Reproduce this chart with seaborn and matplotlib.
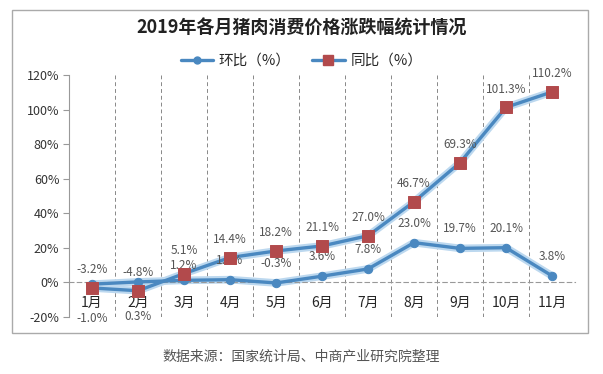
import matplotlib
matplotlib.use("Agg")
import matplotlib.pyplot as plt
import seaborn as sns
import pandas as pd
from matplotlib.patches import Rectangle
from matplotlib.lines import Line2D

# chart data
months = ["1月", "2月", "3月", "4月", "5月", "6月", "7月", "8月", "9月", "10月", "11月"]
mom = [-1.0, 0.3, 1.2, 1.6, -0.3, 3.6, 7.8, 23.0, 19.7, 20.1, 3.8]        # 环比
yoy = [-3.2, -4.8, 5.1, 14.4, 18.2, 21.1, 27.0, 46.7, 69.3, 101.3, 110.2]  # 同比
y_ticks = [-20, 0, 20, 40, 60, 80, 100, 120]

df = pd.DataFrame({"month": months, "idx": range(len(months)), "mom": mom, "yoy": yoy})

sns.set_style("white")
plt.rcParams["font.family"] = ["Noto Sans CJK SC", "DejaVu Sans"]

blue = "#4a88c0"
glow = "#bcd8ef"
red = "#b24a4c"
grey = "#555555"

fig = plt.figure(figsize=(6.03, 3.74), dpi=100)
ax = fig.add_axes([69 / 603, 1 - 317 / 374, (575 - 69) / 603, (317 - 75) / 374])

# light halo under both lines
for col in ["mom", "yoy"]:
    sns.lineplot(data=df, x="idx", y=col, ax=ax, color=glow, linewidth=5.5, zorder=2)
sns.lineplot(data=df, x="idx", y="mom", ax=ax, color=blue, linewidth=2.4,
             marker="o", markersize=6, markeredgecolor=blue, zorder=3)
sns.lineplot(data=df, x="idx", y="yoy", ax=ax, color=blue, linewidth=2.4, zorder=3)
sns.scatterplot(data=df, x="idx", y="yoy", ax=ax, color=red, marker="s", s=75,
                edgecolor=red, zorder=4)

ax.set_xlim(-0.5, len(months) - 0.5)
ax.set_ylim(-20, 120)
ax.set_yticks(y_ticks)
ax.set_yticklabels([f"{t}%" for t in y_ticks], fontsize=9, color="#333333")
ax.set_xlabel("")
ax.set_ylabel("")

# month labels sit under the zero line
ax.set_xticks(range(len(months)))
ax.set_xticklabels(months, fontsize=11, color="#333333")
ax.spines["bottom"].set_position(("data", 0))
ax.spines["bottom"].set_linestyle((0, (4, 3)))
ax.spines["bottom"].set_color("#999999")
ax.spines["bottom"].set_linewidth(0.8)
ax.tick_params(axis="x", length=0, pad=10)
ax.tick_params(axis="y", length=4, width=0.8, color="#999999", left=True, pad=3)
for s in ["top", "right"]:
    ax.spines[s].set_visible(False)
ax.spines["left"].set_color("#999999")
ax.spines["left"].set_linewidth(0.8)

for i in range(len(months)):
    ax.axvline(i + 0.5, color="#888888", linestyle=(0, (4, 3)), linewidth=0.7, zorder=1)

# value labels
for i, v in enumerate(yoy):
    off = 17 if i == 2 else 13
    ax.annotate(f"{v:.1f}%", (i, v), xytext=(0, off), textcoords="offset points",
                ha="center", va="center", fontsize=8.5, color=grey)
for i, v in enumerate(mom):
    off = -25 if i < 2 else (11 if i == 2 else 14)
    ax.annotate(f"{v:.1f}%", (i, v), xytext=(0, off), textcoords="offset points",
                ha="center", va="center", fontsize=8.5, color=grey)

# title, legend, outer box, source
fig.text(0.5, 1 - 28 / 374, "2019年各月猪肉消费价格涨跌幅统计情况",
         ha="center", va="center", fontsize=13, fontweight="bold", color="#222222")
handles = [
    Line2D([], [], color=blue, linewidth=2.4, marker="o", markersize=5),
    Line2D([], [], color=blue, linewidth=2.4, marker="s", markersize=7,
           markerfacecolor=red, markeredgecolor=red),
]
fig.legend(handles, ["环比（%）", "同比（%）"], loc="center",
           bbox_to_anchor=(0.5, 1 - 61 / 374), ncol=2, frameon=False,
           fontsize=10.5, handlelength=2.2, columnspacing=1.5, handletextpad=0.4)
fig.patches.append(Rectangle((12 / 603, 1 - 333 / 374), 576 / 603, 323 / 374,
                             transform=fig.transFigure, fill=False,
                             edgecolor="#aaaaaa", linewidth=1))
fig.text(0.5, 1 - 356 / 374, "数据来源：国家统计局、中商产业研究院整理",
         ha="center", va="center", fontsize=10, color=grey)

fig.savefig("out.png", dpi=100)
